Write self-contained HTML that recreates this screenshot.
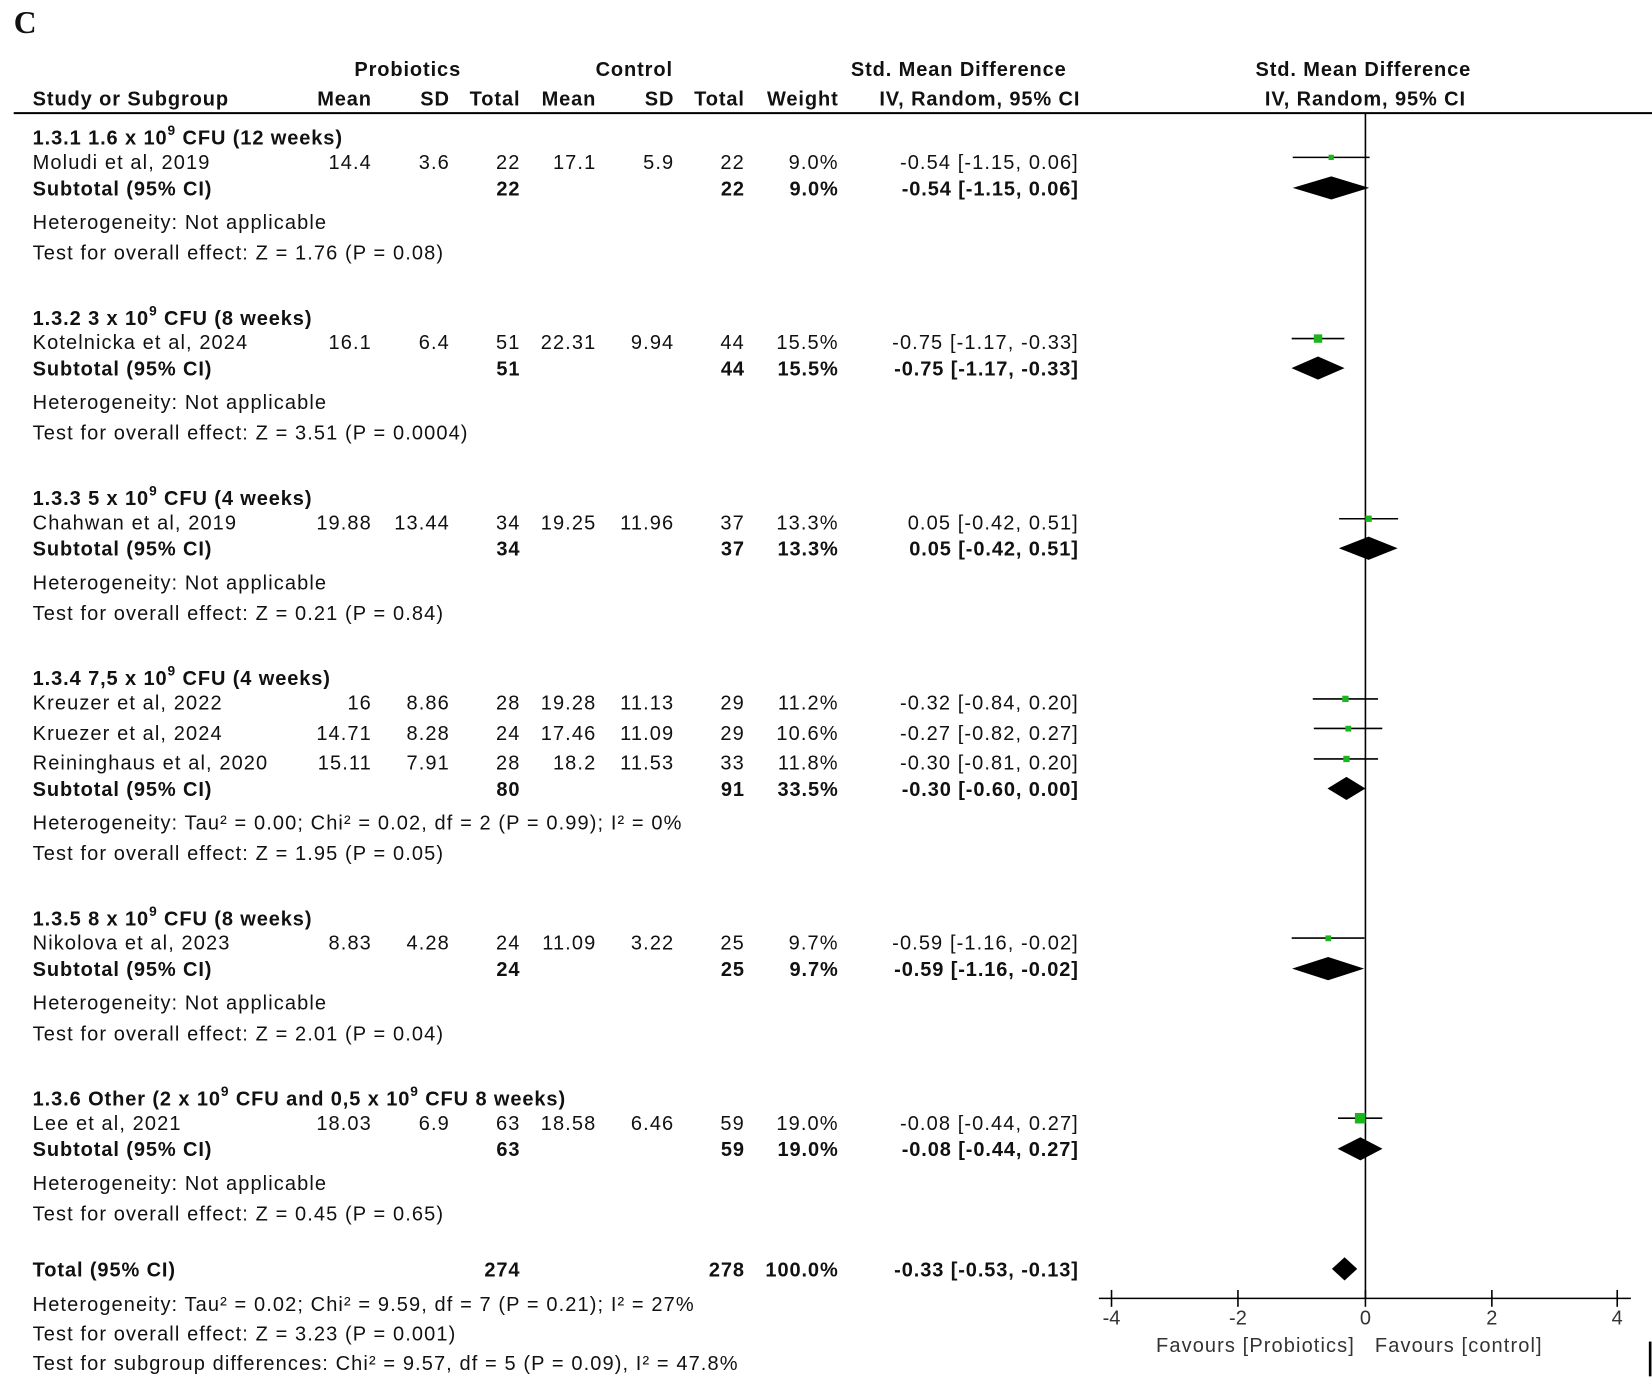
<!DOCTYPE html>
<html><head><meta charset="utf-8"><style>
html,body{margin:0;padding:0;background:#fff;}
svg{display:block;}
text{font-family:"Liberation Sans",Arial,sans-serif;font-size:19px;fill:#111;letter-spacing:1.05px;}
.b{font-weight:bold;letter-spacing:0.85px;}
.r{text-anchor:end;}
.m{text-anchor:middle;}
</style></head><body>
<svg width="1652" height="1382" viewBox="0 0 1568 1311" xmlns="http://www.w3.org/2000/svg">
<rect width="1568" height="1311" fill="#fff"/>
<text x="13" y="31" style="font-family:'Liberation Serif',serif;font-size:30px;font-weight:bold;letter-spacing:0">C</text>
<g class="b">
<text class="m b" x="387" y="72">Probiotics</text>
<text class="m b" x="602" y="72">Control</text>
<text class="m b" x="910" y="72">Std. Mean Difference</text>
<text class="m b" x="1294" y="72">Std. Mean Difference</text>
<text class="b" x="31" y="100">Study or Subgroup</text>
<text class="r b" x="353" y="100">Mean</text>
<text class="r b" x="427" y="100">SD</text>
<text class="r b" x="494" y="100">Total</text>
<text class="r b" x="566" y="100">Mean</text>
<text class="r b" x="640" y="100">SD</text>
<text class="r b" x="707" y="100">Total</text>
<text class="r b" x="796" y="100">Weight</text>
<text class="m b" x="930" y="100">IV, Random, 95% CI</text>
<text class="m b" x="1296" y="100">IV, Random, 95% CI</text>
</g>
<line x1="13" y1="107" x2="1568" y2="107" stroke="#000" stroke-width="2"/>

<text class="b" x="31" y="137">1.3.1 1.6 x 10<tspan dy="-9" font-size="13">9</tspan><tspan dy="9"> CFU (12 weeks)</tspan></text>
<text x="31" y="160">Moludi et al, 2019</text><text class="r" x="353" y="160">14.4</text><text class="r" x="427" y="160">3.6</text><text class="r" x="494" y="160">22</text><text class="r" x="566" y="160">17.1</text><text class="r" x="640" y="160">5.9</text><text class="r" x="707" y="160">22</text><text class="r" x="796" y="160">9.0%</text><text class="r" x="1024" y="160">-0.54 [-1.15, 0.06]</text>
<text class="b" x="31" y="185">Subtotal (95% CI)</text><text class="r b" x="494" y="185">22</text><text class="r b" x="707" y="185">22</text><text class="r b" x="796" y="185">9.0%</text><text class="r b" x="1024" y="185">-0.54 [-1.15, 0.06]</text>
<text x="31" y="217">Heterogeneity: Not applicable</text>
<text x="31" y="246">Test for overall effect: Z = 1.76 (P = 0.08)</text>

<text class="b" x="31" y="308">1.3.2 3 x 10<tspan dy="-9" font-size="13">9</tspan><tspan dy="9"> CFU (8 weeks)</tspan></text>
<text x="31" y="331">Kotelnicka et al, 2024</text><text class="r" x="353" y="331">16.1</text><text class="r" x="427" y="331">6.4</text><text class="r" x="494" y="331">51</text><text class="r" x="566" y="331">22.31</text><text class="r" x="640" y="331">9.94</text><text class="r" x="707" y="331">44</text><text class="r" x="796" y="331">15.5%</text><text class="r" x="1024" y="331">-0.75 [-1.17, -0.33]</text>
<text class="b" x="31" y="356">Subtotal (95% CI)</text><text class="r b" x="494" y="356">51</text><text class="r b" x="707" y="356">44</text><text class="r b" x="796" y="356">15.5%</text><text class="r b" x="1024" y="356">-0.75 [-1.17, -0.33]</text>
<text x="31" y="388">Heterogeneity: Not applicable</text>
<text x="31" y="417">Test for overall effect: Z = 3.51 (P = 0.0004)</text>

<text class="b" x="31" y="479">1.3.3 5 x 10<tspan dy="-9" font-size="13">9</tspan><tspan dy="9"> CFU (4 weeks)</tspan></text>
<text x="31" y="502">Chahwan et al, 2019</text><text class="r" x="353" y="502">19.88</text><text class="r" x="427" y="502">13.44</text><text class="r" x="494" y="502">34</text><text class="r" x="566" y="502">19.25</text><text class="r" x="640" y="502">11.96</text><text class="r" x="707" y="502">37</text><text class="r" x="796" y="502">13.3%</text><text class="r" x="1024" y="502">0.05 [-0.42, 0.51]</text>
<text class="b" x="31" y="527">Subtotal (95% CI)</text><text class="r b" x="494" y="527">34</text><text class="r b" x="707" y="527">37</text><text class="r b" x="796" y="527">13.3%</text><text class="r b" x="1024" y="527">0.05 [-0.42, 0.51]</text>
<text x="31" y="559">Heterogeneity: Not applicable</text>
<text x="31" y="588">Test for overall effect: Z = 0.21 (P = 0.84)</text>

<text class="b" x="31" y="650">1.3.4 7,5 x 10<tspan dy="-9" font-size="13">9</tspan><tspan dy="9"> CFU (4 weeks)</tspan></text>
<text x="31" y="673">Kreuzer et al, 2022</text><text class="r" x="353" y="673">16</text><text class="r" x="427" y="673">8.86</text><text class="r" x="494" y="673">28</text><text class="r" x="566" y="673">19.28</text><text class="r" x="640" y="673">11.13</text><text class="r" x="707" y="673">29</text><text class="r" x="796" y="673">11.2%</text><text class="r" x="1024" y="673">-0.32 [-0.84, 0.20]</text>
<text x="31" y="702">Kruezer et al, 2024</text><text class="r" x="353" y="702">14.71</text><text class="r" x="427" y="702">8.28</text><text class="r" x="494" y="702">24</text><text class="r" x="566" y="702">17.46</text><text class="r" x="640" y="702">11.09</text><text class="r" x="707" y="702">29</text><text class="r" x="796" y="702">10.6%</text><text class="r" x="1024" y="702">-0.27 [-0.82, 0.27]</text>
<text x="31" y="730">Reininghaus et al, 2020</text><text class="r" x="353" y="730">15.11</text><text class="r" x="427" y="730">7.91</text><text class="r" x="494" y="730">28</text><text class="r" x="566" y="730">18.2</text><text class="r" x="640" y="730">11.53</text><text class="r" x="707" y="730">33</text><text class="r" x="796" y="730">11.8%</text><text class="r" x="1024" y="730">-0.30 [-0.81, 0.20]</text>
<text class="b" x="31" y="755">Subtotal (95% CI)</text><text class="r b" x="494" y="755">80</text><text class="r b" x="707" y="755">91</text><text class="r b" x="796" y="755">33.5%</text><text class="r b" x="1024" y="755">-0.30 [-0.60, 0.00]</text>
<text x="31" y="787">Heterogeneity: Tau² = 0.00; Chi² = 0.02, df = 2 (P = 0.99); I² = 0%</text>
<text x="31" y="816">Test for overall effect: Z = 1.95 (P = 0.05)</text>

<text class="b" x="31" y="878">1.3.5 8 x 10<tspan dy="-9" font-size="13">9</tspan><tspan dy="9"> CFU (8 weeks)</tspan></text>
<text x="31" y="901">Nikolova et al, 2023</text><text class="r" x="353" y="901">8.83</text><text class="r" x="427" y="901">4.28</text><text class="r" x="494" y="901">24</text><text class="r" x="566" y="901">11.09</text><text class="r" x="640" y="901">3.22</text><text class="r" x="707" y="901">25</text><text class="r" x="796" y="901">9.7%</text><text class="r" x="1024" y="901">-0.59 [-1.16, -0.02]</text>
<text class="b" x="31" y="926">Subtotal (95% CI)</text><text class="r b" x="494" y="926">24</text><text class="r b" x="707" y="926">25</text><text class="r b" x="796" y="926">9.7%</text><text class="r b" x="1024" y="926">-0.59 [-1.16, -0.02]</text>
<text x="31" y="958">Heterogeneity: Not applicable</text>
<text x="31" y="987">Test for overall effect: Z = 2.01 (P = 0.04)</text>

<text class="b" x="31" y="1049">1.3.6 Other (2 x 10<tspan dy="-9" font-size="13">9</tspan><tspan dy="9"> CFU and 0,5 x 10</tspan><tspan dy="-9" font-size="13">9</tspan><tspan dy="9"> CFU 8 weeks)</tspan></text>
<text x="31" y="1072">Lee et al, 2021</text><text class="r" x="353" y="1072">18.03</text><text class="r" x="427" y="1072">6.9</text><text class="r" x="494" y="1072">63</text><text class="r" x="566" y="1072">18.58</text><text class="r" x="640" y="1072">6.46</text><text class="r" x="707" y="1072">59</text><text class="r" x="796" y="1072">19.0%</text><text class="r" x="1024" y="1072">-0.08 [-0.44, 0.27]</text>
<text class="b" x="31" y="1097">Subtotal (95% CI)</text><text class="r b" x="494" y="1097">63</text><text class="r b" x="707" y="1097">59</text><text class="r b" x="796" y="1097">19.0%</text><text class="r b" x="1024" y="1097">-0.08 [-0.44, 0.27]</text>
<text x="31" y="1129">Heterogeneity: Not applicable</text>
<text x="31" y="1158">Test for overall effect: Z = 0.45 (P = 0.65)</text>

<text class="b" x="31" y="1211">Total (95% CI)</text><text class="r b" x="494" y="1211">274</text><text class="r b" x="707" y="1211">278</text><text class="r b" x="796" y="1211">100.0%</text><text class="r b" x="1024" y="1211">-0.33 [-0.53, -0.13]</text>
<text x="31" y="1244">Heterogeneity: Tau² = 0.02; Chi² = 9.59, df = 7 (P = 0.21); I² = 27%</text>
<text x="31" y="1272">Test for overall effect: Z = 3.23 (P = 0.001)</text>
<text x="31" y="1300">Test for subgroup differences: Chi² = 9.57, df = 5 (P = 0.09), I² = 47.8%</text>

<g stroke="#000" stroke-width="1.5">
<line x1="1296" y1="107" x2="1296" y2="1232"/>
<line x1="1043" y1="1232" x2="1548" y2="1232"/>
<line x1="1055" y1="1224" x2="1055" y2="1240"/>
<line x1="1175" y1="1224" x2="1175" y2="1240"/>
<line x1="1296" y1="1224" x2="1296" y2="1240"/>
<line x1="1416" y1="1224" x2="1416" y2="1240"/>
<line x1="1535" y1="1224" x2="1535" y2="1240"/>
<line x1="1227" y1="149" x2="1300" y2="149"/>
<line x1="1226" y1="321" x2="1276" y2="321"/>
<line x1="1271" y1="492" x2="1327" y2="492"/>
<line x1="1246" y1="663" x2="1308" y2="663"/>
<line x1="1247" y1="691" x2="1312" y2="691"/>
<line x1="1247" y1="720" x2="1308" y2="720"/>
<line x1="1226" y1="890" x2="1295" y2="890"/>
<line x1="1270" y1="1061" x2="1312" y2="1061"/>
</g>
<g fill="#1db51d">
<rect x="1261" y="146.5" width="5" height="5"/>
<rect x="1247" y="317" width="8" height="8"/>
<rect x="1296" y="489" width="6" height="6"/>
<rect x="1274" y="660" width="6" height="6"/>
<rect x="1277" y="688.5" width="5.5" height="5.5"/>
<rect x="1275" y="717" width="6" height="6"/>
<rect x="1258" y="887.5" width="5.5" height="5.5"/>
<rect x="1286" y="1056" width="10" height="10"/>
</g>
<g fill="#000">
<polygon points="1227,178 1263.6,167 1299.6,178 1263.6,189"/>
<polygon points="1225.8,349 1251,338 1276.2,349 1251,360"/>
<polygon points="1270.8,520 1299,509 1326.6,520 1299,531"/>
<polygon points="1260,748 1278,737 1296,748 1278,759"/>
<polygon points="1226.4,919 1260.6,908 1294.8,919 1260.6,930"/>
<polygon points="1269.6,1090 1291.2,1079 1312.2,1090 1291.2,1101"/>
<polygon points="1264.2,1204 1276.2,1193 1288.2,1204 1276.2,1215"/>
<rect x="1565" y="1273" width="2.5" height="33"/>
</g>
<g>
<text class="m" x="1055" y="1257" style="fill:#333;letter-spacing:0">-4</text>
<text class="m" x="1175" y="1257" style="fill:#333;letter-spacing:0">-2</text>
<text class="m" x="1296" y="1257" style="fill:#333;letter-spacing:0">0</text>
<text class="m" x="1416" y="1257" style="fill:#333;letter-spacing:0">2</text>
<text class="m" x="1535" y="1257" style="fill:#333;letter-spacing:0">4</text>
<text class="r" x="1286" y="1283" style="fill:#333">Favours [Probiotics]</text>
<text x="1305" y="1283" style="fill:#333">Favours [control]</text>
</g>
</svg>
</body></html>
